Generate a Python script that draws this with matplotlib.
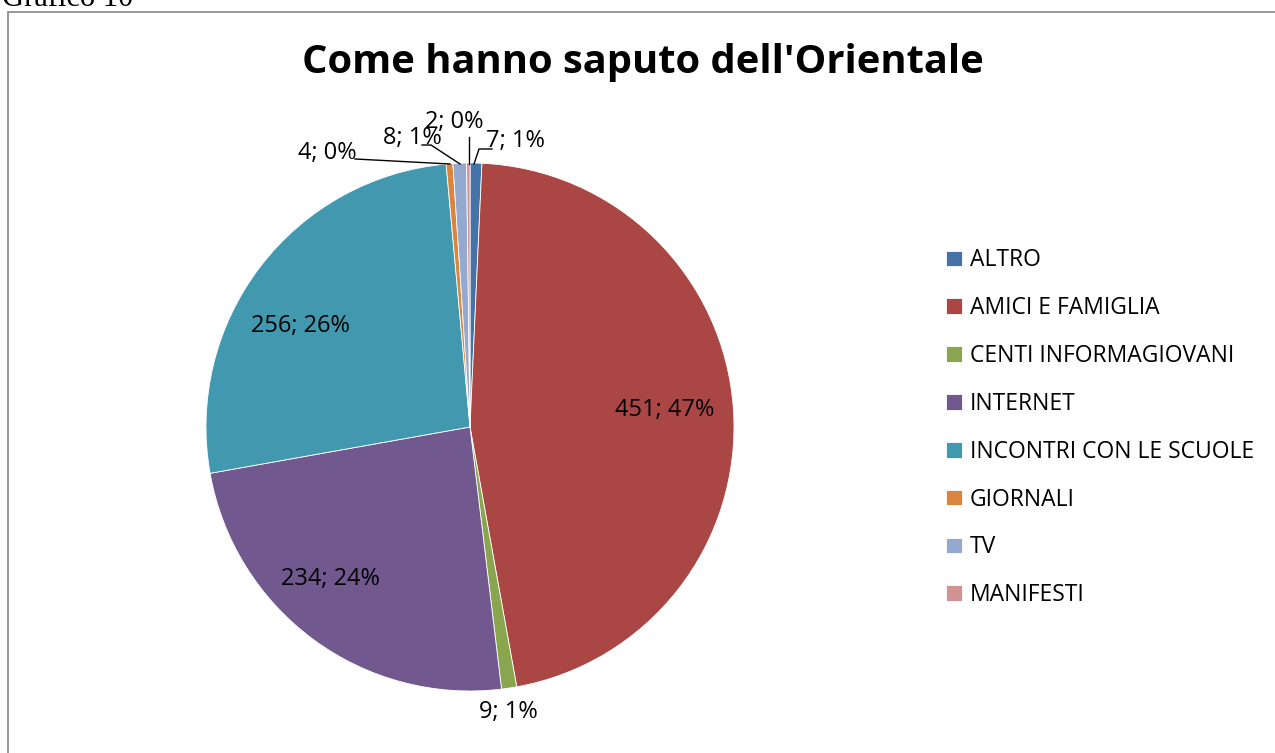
import matplotlib.pyplot as plt
from matplotlib.patches import Rectangle

categories = ["ALTRO", "AMICI E FAMIGLIA", "CENTI INFORMAGIOVANI", "INTERNET",
              "INCONTRI CON LE SCUOLE", "GIORNALI", "TV", "MANIFESTI"]
values = [7, 451, 9, 234, 256, 4, 8, 2]
pct_labels = ["1%", "47%", "1%", "24%", "26%", "0%", "1%", "0%"]
colors = ["#4572A7", "#AA4643", "#89A54E", "#71588F",
          "#4198AF", "#DB843D", "#93A9CF", "#D19392"]

W, H = 1275, 753
fig = plt.figure(figsize=(W / 100, H / 100), dpi=100)
plt.rcParams['font.family'] = ['Open Sans', 'DejaVu Sans']

# chart frame and caption above it
fig.patches.append(Rectangle((8 / W, -0.01), 1.0, (H - 12) / H + 0.01, transform=fig.transFigure,
                             fill=False, edgecolor="#868686", linewidth=1.2))
fig.text(2 / W, (H - 6) / H, "Grafico 10", family="Liberation Serif", fontsize=22,
         va="baseline", ha="left")

cx, cy, r = 470, 427, 264
ax = fig.add_axes([(cx - r) / W, (H - cy - r) / H, 2 * r / W, 2 * r / H])

wedges, _ = ax.pie(values, colors=colors, startangle=90, counterclock=False, radius=1,
                   wedgeprops=dict(edgecolor="white", linewidth=0.6))
ax.set_xlim(-1, 1)
ax.set_ylim(-1, 1)
ax.axis("off")


def px(x, y):
    return (x - cx) / r, (cy - y) / r


fs = 17
# label positions (pixels) and optional leader lines
label_pos = [(515, 141), (665, 410), (508, 712), (330, 579),
             (300, 326), (327, 153), (412, 138), (454, 122)]
leaders = {
    0: [(474, 164), (479, 149), (492, 149)],
    5: [(355, 159), (450, 164)],
    6: [(422, 145), (431, 145), (460, 164)],
    7: [(469, 137), (469, 164)],
}
for i, (lx, ly) in enumerate(label_pos):
    x, y = px(lx, ly)
    ax.text(x, y, f"{values[i]}; {pct_labels[i]}", ha="center", va="center",
            fontsize=fs, clip_on=False)
for i, pts in leaders.items():
    xs, ys = zip(*[px(a, b) for a, b in pts])
    ax.plot(xs, ys, color="black", linewidth=1, clip_on=False)

fig.text(643 / W, (H - 62) / H, "Come hanno saputo dell'Orientale", ha="center", va="center",
         fontsize=28.7, fontweight="bold")

fig.legend(wedges, categories, loc="upper left", bbox_to_anchor=(935 / W, (H - 237) / H),
           frameon=False, fontsize=16.5, handlelength=0.68, handleheight=0.68,
           handletextpad=0.35, labelspacing=1.04, borderpad=0)

fig.savefig("out.png", dpi=100)
